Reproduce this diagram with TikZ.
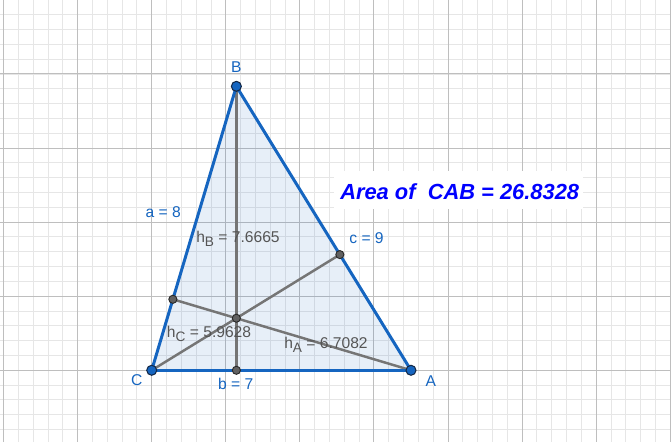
\documentclass[tikz,border=0pt]{standalone}
\usepackage{fontspec}
\setmainfont{Liberation Sans}
\begin{document}
\begin{tikzpicture}[
  edge/.style={draw={rgb,255:red,21;green,101;blue,192}, line width=2.3pt},
  alt/.style={draw={rgb,255:red,117;green,117;blue,117}, line width=1.9pt},
  bpt/.style={circle, fill={rgb,255:red,21;green,101;blue,192}, draw={rgb,255:red,20;green,40;blue,70}, line width=0.8pt, inner sep=0pt, minimum size=0.27cm},
  gpt/.style={circle, fill={rgb,255:red,97;green,97;blue,97}, draw={rgb,255:red,40;green,40;blue,40}, line width=0.7pt, inner sep=0pt, minimum size=0.22cm},
  blab/.style={text={rgb,255:red,21;green,101;blue,192}, font=\fontsize{12}{14}\selectfont, inner sep=0pt},
  glab/.style={text={rgb,255:red,85;green,85;blue,85}, font=\fontsize{12}{14}\selectfont, inner sep=0pt, anchor=base west},
]
\useasboundingbox (-4.096,-1.936) rectangle (14.02,9.997);
\fill[white] (-4.096,-1.936) rectangle (14.02,9.997);
% grid
\draw[color={rgb,255:red,230;green,230;blue,230}, line width=0.7pt] (-4.096,-1.936) grid[step=0.4] (14.02,9.997);
\draw[color={rgb,255:red,190;green,190;blue,190}, line width=0.75pt] (-4.096,-1.936) grid[step=2] (14.02,9.997);

% points
\coordinate (C) at (0,0);
\coordinate (A) at (7,0);
\coordinate (B) at (2.2857,7.6665);
\coordinate (FB) at (2.2857,0);
\coordinate (FA) at (0.5714,1.9166);
\coordinate (FC) at (5.0794,3.1234);
\coordinate (H) at (2.2857,1.4055);

% triangle fill
\fill[fill={rgb,255:red,21;green,101;blue,192}, fill opacity=0.1] (C) -- (A) -- (B) -- cycle;

% altitudes
\draw[alt] (B) -- (FB);
\draw[alt] (A) -- (FA);
\draw[alt] (C) -- (FC);

% edges
\draw[edge] (C) -- (A);
\draw[edge] (A) -- (B);
\draw[edge] (B) -- (C);

% dots
\node[gpt] (pFB) at (FB) {};
\node[gpt] (pFA) at (FA) {};
\node[gpt] (pFC) at (FC) {};
\node[gpt] (pH) at (H) {};
\node[bpt] (pA) at (A) {};
\node[bpt] (pB) at (B) {};
\node[bpt] (pC) at (C) {};

% labels
\node[blab] (lB) at (2.2857,8.19) {B};
\node[blab] (lC) at (-0.405,-0.27) {C};
\node[blab] (lA) at (7.535,-0.29) {A};
\node[blab] (la) at (0.313,4.266) {a = 8};
\node[blab] (lb) at (2.268,-0.378) {b = 7};
\node[blab] (lc) at (5.80,3.56) {c = 9};

\node[glab] (lhB) at (1.196,3.44) {h\raisebox{-0.5ex}{\fontsize{10.5}{12}\selectfont B} = 7.6665};
\node[glab] (lhC) at (0.405,0.88) {h\raisebox{-0.5ex}{\fontsize{10.5}{12}\selectfont C} = 5.9628};
\node[glab] (lhA) at (3.572,0.583) {h\raisebox{-0.5ex}{\fontsize{10.5}{12}\selectfont A} = 6.7082};

% area text
\fill[white] (4.93,4.35) rectangle (11.65,5.39);
\node[anchor=base west, inner sep=0pt, text={rgb,255:red,0;green,0;blue,255}, font=\fontsize{16.8}{19}\selectfont\bfseries\itshape] (area) at (5.084,4.617) {Area of \ CAB = 26.8328};
\end{tikzpicture}
\end{document}
